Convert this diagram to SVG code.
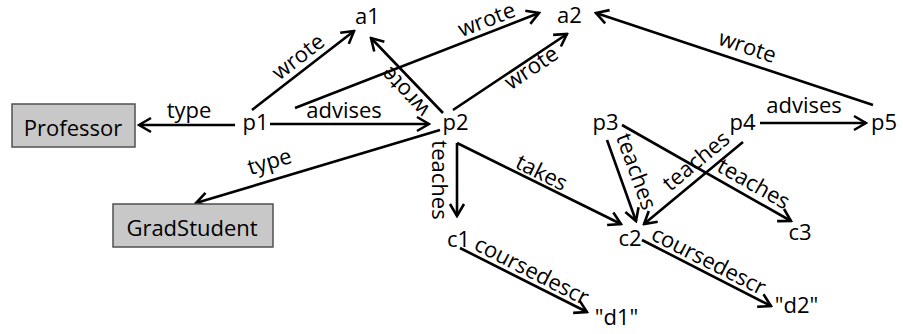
<svg xmlns="http://www.w3.org/2000/svg" width="903" height="334" viewBox="0 0 903 334">
<defs>
<style>
text{font-family:"Open Sans","Liberation Sans",sans-serif;font-size:22px;fill:#000}
.n{text-anchor:middle}
.l{text-anchor:middle}
.e line{stroke:#000;stroke-width:2.6;marker-end:url(#ah)}
.box{fill:#c8c8c8;stroke:#505050;stroke-width:1.5}
</style>
<marker id="ah" markerUnits="userSpaceOnUse" viewBox="-14 -9 16 18" markerWidth="16" markerHeight="18" refX="0" refY="0" orient="auto">
<path d="M-12,-7 L0,0 L-12,7" fill="none" stroke="#000" stroke-width="2.6"/>
</marker>
</defs>
<rect width="903" height="334" fill="#fff"/>
<g id="edges" class="e">
<line x1="235" y1="125" x2="139" y2="125"/>
<line x1="270" y1="124" x2="429" y2="124"/>
<line x1="252" y1="110" x2="354" y2="31"/>
<line x1="295" y1="108" x2="539" y2="13"/>
<line x1="443" y1="113" x2="371" y2="38"/>
<line x1="453" y1="110" x2="567" y2="34"/>
<line x1="440" y1="130" x2="196" y2="203"/>
<line x1="457" y1="143" x2="457" y2="216"/>
<line x1="457" y1="143" x2="621" y2="224"/>
<line x1="607" y1="140" x2="636" y2="221"/>
<line x1="622" y1="125" x2="791" y2="221"/>
<line x1="743" y1="142" x2="644" y2="224"/>
<line x1="760" y1="123" x2="866" y2="123"/>
<line x1="873" y1="105" x2="596" y2="13"/>
<line x1="460" y1="248" x2="587" y2="312"/>
<line x1="642" y1="240" x2="771" y2="306"/>
</g>
<g id="edge-labels">
<text class="l" x="189" y="118">type</text>
<text class="l" x="344" y="118">advises</text>
<text class="l" transform="translate(299,58) rotate(-38)" y="6">wrote</text>
<text class="l" transform="translate(487,21) rotate(-21)" y="6">wrote</text>
<text class="l" transform="translate(406,91) rotate(-133)" y="6">wrote</text>
<text class="l" transform="translate(532,69) rotate(-34)" y="6">wrote</text>
<text class="l" transform="translate(747,48) rotate(18.7)" y="6">wrote</text>
<text class="l" transform="translate(270,163) rotate(-16.6)" y="6">type</text>
<text class="l" transform="translate(438,180) rotate(90)" y="6">teaches</text>
<text class="l" transform="translate(541,174) rotate(26.4)" y="6">takes</text>
<text class="l" transform="translate(635,172) rotate(70)" y="6">teaches</text>
<text class="l" transform="translate(697,162) rotate(-39.7)" y="6">teaches</text>
<text class="l" transform="translate(753,185) rotate(29.7)" y="6">teaches</text>
<text class="l" x="804" y="113">advises</text>
<text class="l" transform="translate(531,272) rotate(27)" y="6">coursedescr</text>
<text class="l" transform="translate(708,262) rotate(27)" y="6">coursedescr</text>
</g>
<g id="Professor"><rect class="box" x="12" y="104" width="123" height="43"/><text class="n" x="73" y="136">Professor</text></g>
<g id="GradStudent"><rect class="box" x="113" y="204" width="160" height="43"/><text class="n" x="192" y="236">GradStudent</text></g>
<g id="a1"><text class="n" x="367.5" y="24">a1</text></g>
<g id="a2"><text class="n" x="569.5" y="23">a2</text></g>
<g id="p1"><text class="n" x="255.5" y="130">p1</text></g>
<g id="p2"><text class="n" x="455.5" y="130">p2</text></g>
<g id="p3"><text class="n" x="605.5" y="130">p3</text></g>
<g id="p4"><text class="n" x="742.5" y="130">p4</text></g>
<g id="p5"><text class="n" x="884" y="130">p5</text></g>
<g id="c1"><text class="n" x="458.5" y="247">c1</text></g>
<g id="c2"><text class="n" x="630" y="246">c2</text></g>
<g id="c3"><text class="n" x="800" y="240">c3</text></g>
<g id="d1"><text class="n" x="616.5" y="325">"d1"</text></g>
<g id="d2"><text class="n" x="796.5" y="313">"d2"</text></g>
</svg>
